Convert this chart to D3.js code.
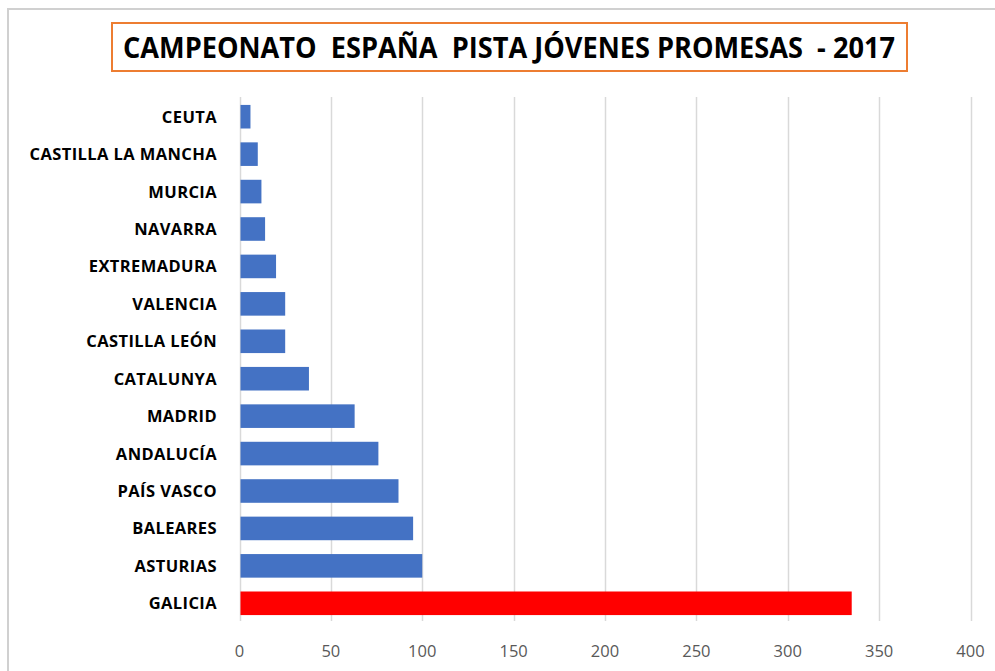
<!DOCTYPE html>
<html>
<head>
<meta charset="utf-8">
<script src="https://cdn.jsdelivr.net/npm/d3@7"></script>
<style>
    body { margin: 0; background: #fff; }
    svg { display: block; }
    .cat_label { font-family: "Open Sans", sans-serif; font-weight: bold; font-size: 16.5px; letter-spacing: 0.4px; fill: #000; }
    .tick_label { font-family: "Open Sans", sans-serif; font-size: 16.5px; fill: #595959; }
    .chart-title { font-family: "Open Sans", sans-serif; font-weight: bold; font-size: 28px; fill: #000; white-space: pre; }
</style>
</head>
<body>
<svg width="995" height="671"></svg>
<script>
// regions, top to bottom as shown
const regions = [
    'CEUTA', 'CASTILLA LA MANCHA', 'MURCIA', 'NAVARRA', 'EXTREMADURA', 'VALENCIA',
    'CASTILLA LEÓN', 'CATALUNYA', 'MADRID', 'ANDALUCÍA', 'PAÍS VASCO', 'BALEARES',
    'ASTURIAS', 'GALICIA'
];
const points = [6, 10, 12, 14, 20, 25, 25, 38, 63, 76, 87, 95, 100, 335];
const xTicks = [0, 50, 100, 150, 200, 250, 300, 350, 400];
const highlight = 'GALICIA';

const chartTitle = "CAMPEONATO  ESPAÑA  PISTA JÓVENES PROMESAS  - 2017";

const svg = d3.select("svg");
const width = +svg.attr('width');
const height = +svg.attr('height');

const render = () => {
    const data = regions.map((r, i) => ({ region: r, value: points[i] }));

    // outer chart border (runs off the right/bottom edges)
    svg.append("rect")
        .attr("x", 8).attr("y", 9)
        .attr("width", width + 10).attr("height", height + 10)
        .attr("fill", "none")
        .attr("stroke", "#d0d0d0")
        .attr("stroke-width", 2);

    const x = d3.scaleLinear()
        .domain([0, 400])
        .range([239.5, 970.5]);

    const y = d3.scaleBand()
        .domain(regions)
        .range([98, 622])
        .paddingInner(0.37)
        .paddingOuter(0.185);

    // gridlines
    svg.append("g").selectAll("line").data(xTicks).enter()
        .append("line")
        .attr("x1", d => Math.round(x(d)) + 0.5)
        .attr("x2", d => Math.round(x(d)) + 0.5)
        .attr("y1", 97).attr("y2", 621)
        .attr("stroke", "#d9d9d9")
        .attr("stroke-width", 1.5);

    // bars
    svg.append("g").selectAll("rect").data(data).enter()
        .append("rect")
        .attr("x", x(0) + 1)
        .attr("y", d => y(d.region))
        .attr("width", d => x(d.value) - x(0) - 1)
        .attr("height", y.bandwidth())
        .attr("fill", d => d.region === highlight ? "#ff0000" : "#4472c4");

    // category labels
    svg.append("g").selectAll("text").data(data).enter()
        .append("text")
        .attr("class", "cat_label")
        .attr("x", 217)
        .attr("y", d => y(d.region) + y.bandwidth() / 2)
        .attr("dy", "0.36em")
        .attr("text-anchor", "end")
        .text(d => d.region);

    // x tick labels
    svg.append("g").selectAll("text").data(xTicks).enter()
        .append("text")
        .attr("class", "tick_label")
        .attr("x", d => x(d))
        .attr("y", 657)
        .attr("text-anchor", "middle")
        .text(d => d);

    // title box
    svg.append("rect")
        .attr("x", 112).attr("y", 23)
        .attr("width", 795).attr("height", 48)
        .attr("fill", "#fff")
        .attr("stroke", "#ed7d31")
        .attr("stroke-width", 2);

    svg.append("text")
        .attr("class", "chart-title")
        .attr("x", 509)
        .attr("y", 58)
        .attr("text-anchor", "middle")
        .attr("textLength", 772)
        .attr("lengthAdjust", "spacingAndGlyphs")
        .text(chartTitle);
};

render();
</script>
</body>
</html>
